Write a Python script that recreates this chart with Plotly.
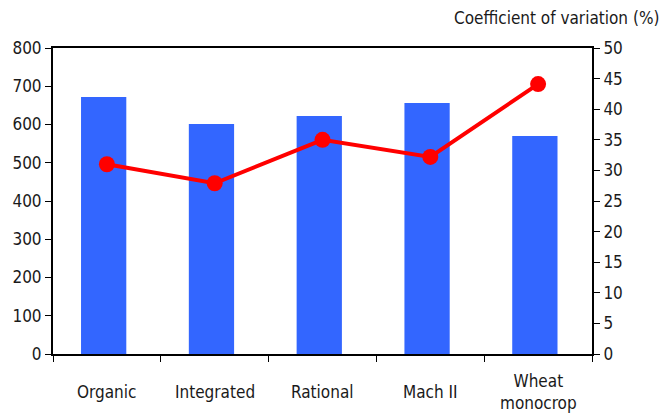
import plotly.graph_objects as go

categories = ["Organic", "Integrated", "Rational", "Mach II", "Wheat<br>monocrop"]
yield_values = [672, 601, 622, 656, 570]
cv_values = [31.0, 27.9, 35.0, 32.2, 44.1]
left_ticks = [0, 100, 200, 300, 400, 500, 600, 700, 800]
right_ticks = [0, 5, 10, 15, 20, 25, 30, 35, 40, 45, 50]

FONT = "DejaVu Sans Condensed, Liberation Sans Narrow, Arial Narrow, sans-serif"
FS = 17

fig = go.Figure()
fig.add_trace(go.Bar(x=categories, y=yield_values, marker=dict(color="#3366FF", line=dict(width=0)),
                     width=0.42, offset=-0.24, yaxis="y"))
fig.add_trace(go.Scatter(x=categories, y=cv_values, yaxis="y2", mode="lines+markers",
                         line=dict(color="#FF0000", width=4),
                         marker=dict(color="#FF0000", size=16)))

for c in categories:
    fig.add_annotation(x=c, y=-0.125, xref="x", yref="paper", text=c, showarrow=False,
                       yanchor="middle", xanchor="center",
                       font=dict(family=FONT, size=FS, color="#1a1a1a"))

fig.add_annotation(x=1.128, y=1.06, xref="paper", yref="paper", xanchor="right", yanchor="bottom",
                   text="Coefficient of variation (%)", showarrow=False,
                   font=dict(family=FONT, size=FS, color="#1a1a1a"))

fig.update_layout(
    width=664, height=416,
    margin=dict(l=51, r=72, t=48, b=62),
    paper_bgcolor="white", plot_bgcolor="white",
    showlegend=False,
    font=dict(family=FONT, size=FS, color="#1a1a1a"),
    xaxis=dict(showticklabels=False, ticks="outside", tickson="boundaries", ticklen=6,
               tickcolor="black", showline=True, linecolor="black", linewidth=2, mirror=True,
               showgrid=False, range=[-0.5, 4.5]),
    yaxis=dict(range=[0, 800], tickvals=left_ticks, ticks="outside", ticklen=6, tickcolor="black",
               showline=True, linecolor="black", linewidth=2, showgrid=False, zeroline=False,
               tickfont=dict(family=FONT, size=FS, color="#1a1a1a")),
    yaxis2=dict(range=[0, 50], tickvals=right_ticks, overlaying="y", side="right", ticks="outside",
                ticklen=6, tickcolor="black", showline=True, linecolor="black", linewidth=2,
                showgrid=False, zeroline=False,
                tickfont=dict(family=FONT, size=FS, color="#1a1a1a")),
)

fig.write_html("out.html")
